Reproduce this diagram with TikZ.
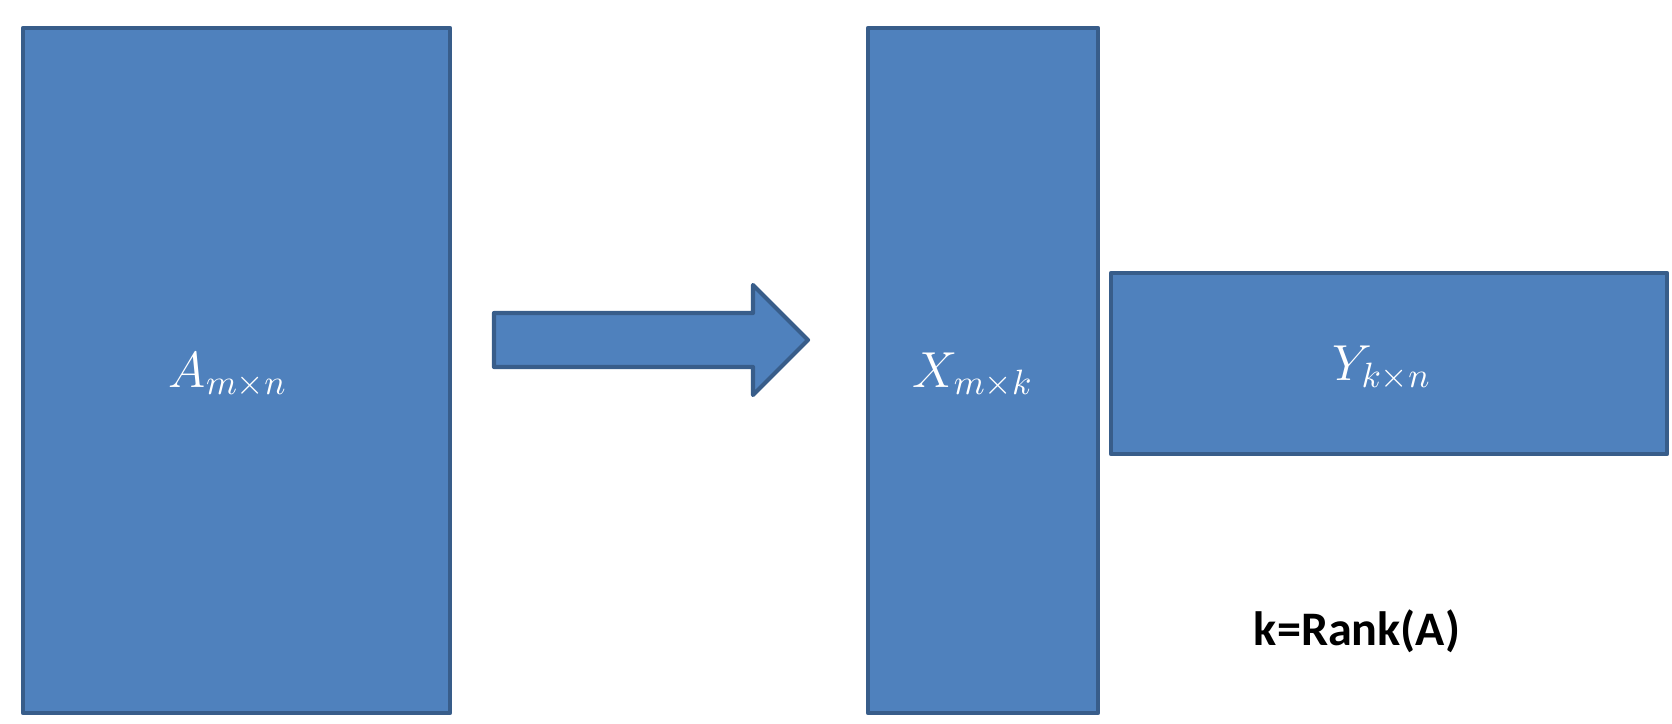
\documentclass[tikz,border=0pt]{standalone}
\usepackage{tikz}
\usepackage{xcolor}
\usepackage{fontspec}
\newfontfamily\calfont{Carlito}
\definecolor{matfill}{HTML}{4F81BD}
\definecolor{matline}{HTML}{385D8A}

\begin{document}
\begin{tikzpicture}[x=0.01cm,y=-0.01cm,
    mat/.style={draw=matline,fill=matfill,line width=1.2pt,line join=round},
    matlabel/.style={text=white,anchor=base,inner sep=0pt,font=\fontsize{14}{16}\selectfont},
    ranklabel/.style={anchor=base,inner sep=0pt,font=\calfont\bfseries\fontsize{13.7}{16}\selectfont}]
          \useasboundingbox (0,0) rectangle (1672,724);

          \draw[mat] (23,28) rectangle (450,713);
          \draw[mat] (868,28) rectangle (1098,713);
          \draw[mat] (1111,273) rectangle (1667,454);

          % block arrow
          \draw[mat] (494,313) -- (753,313) -- (753,285) -- (808,340)
                     -- (753,395) -- (753,367) -- (494,367) -- cycle;

          \node[matlabel] (A) at (228,387) {$A_{m\times n}$};
          \node[matlabel] (X) at (973,387) {$X_{m\times k}$};
          \node[matlabel] (Y) at (1382,380) {$Y_{k\times n}$};
          \node[ranklabel] (rank) at (1357,645) {k=Rank(A)};
        \end{tikzpicture}
\end{document}
